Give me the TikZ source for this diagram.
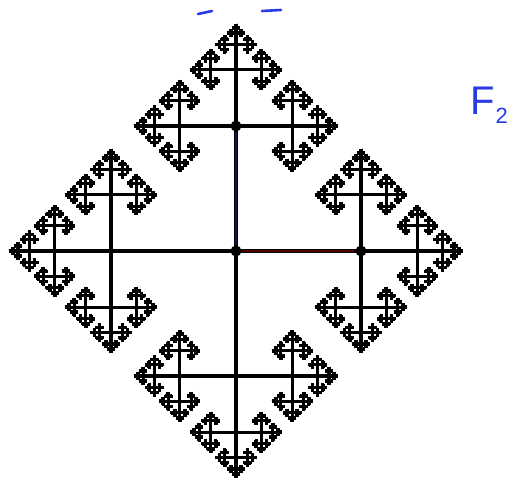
\documentclass[tikz,border=0pt]{standalone}
\usepackage{fontspec}
\newfontfamily\handfont{Liberation Sans}
\definecolor{hand}{RGB}{40,60,230}
\definecolor{segred}{RGB}{80,0,0}
\definecolor{segblue}{RGB}{20,20,90}
\def\vr{0.45}
\tikzset{
  fracline/.style={line width=3.1pt,black},
  dot/.style={circle,fill=black,inner sep=0pt,minimum size=11pt},
  handstroke/.style={hand,line width=2.6pt,line cap=round},
}
\newcommand\vtree[5]{%
\begingroup
\pgfmathsetmacro\vL{#3/(1-\vr)}%
\draw[fracline] (#1-\vL,#2) -- (#1+\vL,#2) (#1,#2-\vL) -- (#1,#2+\vL);%
\ifnum#4>0
\pgfmathsetmacro\vd{#3*\vr}%
\pgfmathsetmacro\vxa{#1+#3}\pgfmathsetmacro\vxb{#1-#3}%
\pgfmathsetmacro\vya{#2+#3}\pgfmathsetmacro\vyb{#2-#3}%
\pgfmathtruncatemacro\vn{#4-1}%
\ifnum#5=2 \else\edef\vnext{\noexpand\vtree{\vxa}{#2}{\vd}{\vn}{1}}\vnext\fi
\ifnum#5=1 \else\edef\vnext{\noexpand\vtree{\vxb}{#2}{\vd}{\vn}{2}}\vnext\fi
\ifnum#5=4 \else\edef\vnext{\noexpand\vtree{#1}{\vyb}{\vd}{\vn}{3}}\vnext\fi
\ifnum#5=3 \else\edef\vnext{\noexpand\vtree{#1}{\vya}{\vd}{\vn}{4}}\vnext\fi
\fi
\endgroup}
\begin{document}
\begin{tikzpicture}[x=1pt,y=-1pt]
\useasboundingbox[fill=white] (0,0) rectangle (518,481);
\vtree{236}{251}{125}{6}{0}
\node[dot] (c0) at (236,251) {};
\node[dot] (ct) at (236,126) {};
\node[dot] (cr) at (361,251) {};
\draw[line width=2.8pt,segred] (c0) -- (cr);
\draw[line width=2.8pt,segblue] (c0) -- (ct);
% handwritten marks
\draw[handstroke] (198,14) -- (212,11);
\draw[handstroke] (262,11) -- (281,10);
\node[text=hand,font=\handfont\fontsize{40}{40}\selectfont,anchor=base west,inner sep=0pt] (f2) at (470,115) {F\kern1pt\raisebox{-9pt}{\fontsize{22}{22}\selectfont 2}};
\end{tikzpicture}
\end{document}
